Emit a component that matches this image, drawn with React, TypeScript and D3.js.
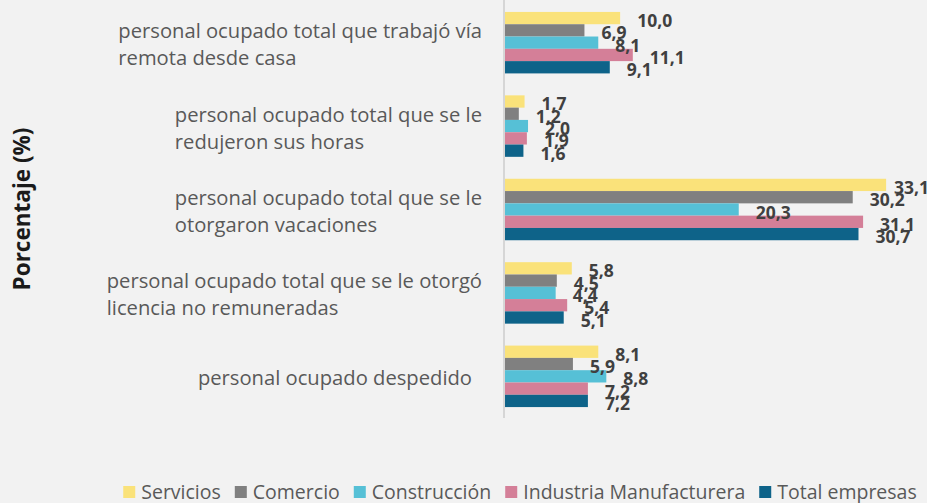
import React, { useEffect, useRef } from 'react';
import * as d3 from 'd3';

const categories = [
  'personal ocupado total que trabajó vía|remota desde casa',
  'personal ocupado total que se le|redujeron sus horas',
  'personal ocupado total que se le|otorgaron vacaciones',
  'personal ocupado total que se le otorgó|licencia no remuneradas',
  'personal ocupado despedido',
];
const series = ['Servicios', 'Comercio', 'Construcción', 'Industria Manufacturera', 'Total empresas'];
const colors = ['#fae27a', '#808080', '#56c0d6', '#d47f98', '#0e6389'];

const servicios = [10.0, 1.7, 33.1, 5.8, 8.1];
const comercio = [6.9, 1.2, 30.2, 4.5, 5.9];
const construccion = [8.1, 2.0, 20.3, 4.4, 8.8];
const industria = [11.1, 1.9, 31.1, 5.4, 7.2];
const total = [9.1, 1.6, 30.7, 5.1, 7.2];
const values = [servicios, comercio, construccion, industria, total];

export default function App() {
  const ref = useRef<SVGSVGElement>(null);

  useEffect(() => {
    const W = 927, H = 503;
    const svg = d3.select(ref.current);
    svg.selectAll('*').remove();

    svg.append('rect').attr('width', W).attr('height', H).attr('fill', '#f2f2f2');

    const y = d3.scaleBand<number>()
      .domain(d3.range(categories.length))
      .range([1, 418])
      .paddingInner(0.263)
      .paddingOuter(0.131);
    const ySub = d3.scaleBand<number>()
      .domain(d3.range(series.length))
      .range([0, y.bandwidth()]);
    const x = d3.scaleLinear().domain([0, 35]).range([505, 908]);

    const rows = categories.flatMap((c, ci) =>
      series.map((s, si) => ({ ci, si, v: values[si][ci] })));

    const g = svg.append('g');
    g.selectAll('rect.bar')
      .data(rows)
      .enter().append('rect')
      .attr('class', 'bar')
      .attr('x', x(0))
      .attr('y', d => y(d.ci)! + ySub(d.si)!)
      .attr('width', d => x(d.v) - x(0))
      .attr('height', ySub.bandwidth())
      .attr('fill', d => colors[d.si]);

    // vertical axis line
    svg.append('line')
      .attr('x1', 504).attr('x2', 504)
      .attr('y1', 0).attr('y2', 418)
      .attr('stroke', '#d6d6d6')
      .attr('stroke-width', 2);

    // data labels
    g.selectAll('text.lbl')
      .data(rows)
      .enter().append('text')
      .attr('class', 'lbl')
      .attr('x', d => Math.min(x(d.v) + 17, 894))
      .attr('y', d => y(d.ci)! + ySub(d.si)! + ySub.bandwidth() / 2 + 2)
      .attr('dominant-baseline', 'central')
      .attr('font-family', 'Open Sans')
      .attr('font-weight', 'bold')
      .attr('font-size', 17.5)
      .attr('fill', '#404040')
      .text(d => d.v.toFixed(1).replace('.', ','));

    // category labels
    categories.forEach((c, ci) => {
      const lines = c.split('|');
      const center = y(ci)! + y.bandwidth() / 2;
      const right = lines.length > 1 ? 482 : 472;
      const t = svg.append('text')
        .attr('font-family', 'Open Sans')
        .attr('font-size', 20.2)
        .attr('fill', '#595959');
      const spans = lines.map((l, i) =>
        t.append('tspan')
          .attr('y', center + 9 + (i - (lines.length - 1) / 2) * 27)
          .text(l));
      const maxW = d3.max(spans, s => (s.node() as SVGTextContentElement).getComputedTextLength()) || 0;
      spans.forEach(s => s.attr('x', right - maxW));
    });

    // y title
    svg.append('text')
      .attr('transform', 'translate(30,209) rotate(-90)')
      .attr('text-anchor', 'middle')
      .attr('font-family', 'Open Sans')
      .attr('font-weight', 'bold')
      .attr('font-size', 22.5)
      .attr('fill', '#1a1a1a')
      .text('Porcentaje (%)');

    // legend
    const lg = svg.append('g');
    let cx = 0;
    series.forEach((s, si) => {
      lg.append('rect')
        .attr('x', cx).attr('y', 486)
        .attr('width', 12).attr('height', 12)
        .attr('fill', colors[si]);
      const t = lg.append('text')
        .attr('x', cx + 18).attr('y', 499)
        .attr('font-family', 'Open Sans')
        .attr('font-size', 19.5)
        .attr('fill', '#595959')
        .text(s);
      cx += 18 + (t.node() as SVGTextElement).getComputedTextLength() + 14;
    });
    const lw = cx - 14;
    lg.attr('transform', `translate(${520 - lw / 2},0)`);
  }, []);

  return (
    <svg ref={ref} width={927} height={503}
      style={{ position: 'absolute', left: 0, top: 0, display: 'block' }} />
  );
}
